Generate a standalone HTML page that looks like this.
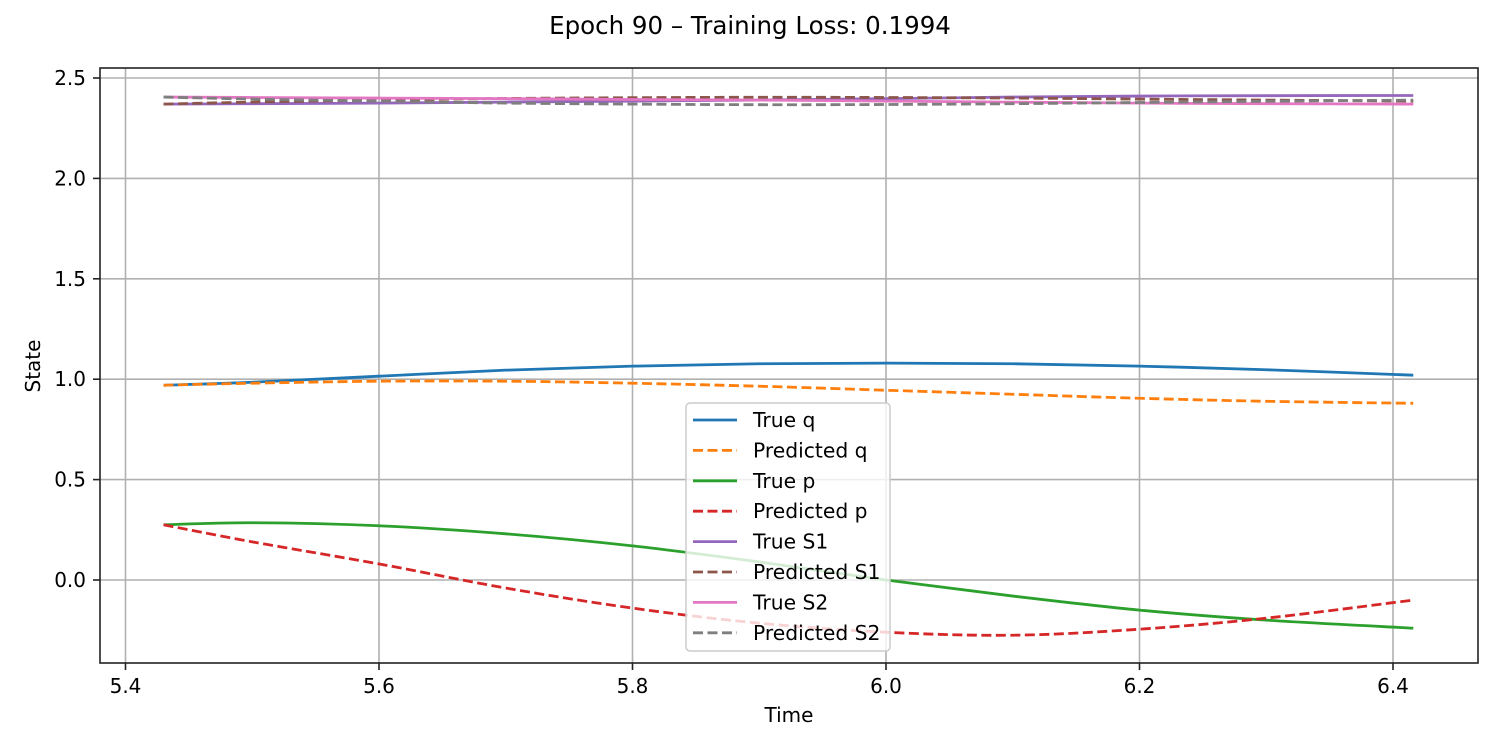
<!DOCTYPE html>
<html><head><meta charset="utf-8"><style>
html,body{margin:0;padding:0;background:#fff;}
svg{display:block;font-family:"DejaVu Sans","Liberation Sans",sans-serif;}
</style></head><body>
<svg id="chart" width="1500" height="750">
<text x="750" y="34" font-size="24.5" text-anchor="middle" fill="#000">Epoch 90 – Training Loss: 0.1994</text>
<g id="grid"></g>
<g id="series"></g>
<rect x="100" y="68" width="1378" height="595" fill="none" stroke="#222" stroke-width="1.6"/>
<g id="ticks"></g>
<text x="789" y="722" font-size="20" text-anchor="middle">Time</text>
<text x="40" y="366" font-size="20" text-anchor="middle" transform="rotate(-90 40 366)">State</text>
<g id="legend"></g>
</svg>
<script>
const times = [5.43,5.5,5.6,5.7,5.8,5.9,6.0,6.1,6.2,6.3,6.416];
const trueQ = [0.97,0.985,1.015,1.045,1.065,1.077,1.08,1.077,1.065,1.047,1.02];
const predQ = [0.97,0.98,0.99,0.99,0.98,0.965,0.945,0.925,0.905,0.89,0.88];
const trueP = [0.275,0.285,0.27,0.23,0.17,0.09,0.0,-0.08,-0.15,-0.2,-0.24];
const predP = [0.275,0.19,0.08,-0.04,-0.14,-0.215,-0.26,-0.275,-0.245,-0.19,-0.10];
const trueS1 = [2.37,2.372,2.375,2.38,2.385,2.39,2.397,2.405,2.41,2.412,2.413];
const predS1 = [2.37,2.38,2.39,2.398,2.402,2.404,2.403,2.4,2.395,2.39,2.385];
const trueS2 = [2.405,2.403,2.40,2.397,2.393,2.39,2.385,2.38,2.375,2.372,2.37];
const predS2 = [2.405,2.395,2.385,2.375,2.37,2.367,2.368,2.372,2.378,2.384,2.39];
const xTicks = [5.4,5.6,5.8,6.0,6.2,6.4];
const xTickLabels = ["5.4","5.6","5.8","6.0","6.2","6.4"];
const yTicks = [0,0.5,1.0,1.5,2.0,2.5];
const yTickLabels = ["0.0","0.5","1.0","1.5","2.0","2.5"];
const seriesNames = ["True q","Predicted q","True p","Predicted p","True S1","Predicted S1","True S2","Predicted S2"];

const NS="http://www.w3.org/2000/svg";
function X(t){return 125.5+(t-5.4)*(253.5/0.2);}
function Y(v){return 580-v*200.8;}
function mk(tag,attrs,parent){const e=document.createElementNS(NS,tag);for(const k in attrs)e.setAttribute(k,attrs[k]);parent.appendChild(e);return e;}
const grid=document.getElementById('grid'),ticks=document.getElementById('ticks');
xTicks.forEach((t,i)=>{
  const g=mk('line',{x1:X(t),x2:X(t),y1:68,y2:663,stroke:'#b0b0b0','stroke-width':1.6},grid);
  
  
  const tk=mk('line',{x1:X(t),x2:X(t),y1:663,y2:670,stroke:'#222','stroke-width':1.6},ticks);
  
  
  const tx=mk('text',{x:X(t),y:693,'font-size':20,'text-anchor':'middle'},ticks);
  tx.textContent=xTickLabels[i];
  
  
});
yTicks.forEach((v,i)=>{
  const g=mk('line',{x1:100,x2:1478,y1:Y(v),y2:Y(v),stroke:'#b0b0b0','stroke-width':1.6},grid);
  
  
  const tk=mk('line',{x1:93,x2:100,y1:Y(v),y2:Y(v),stroke:'#222','stroke-width':1.6},ticks);
  
  
  const tx=mk('text',{x:86,y:Y(v)+7,'font-size':20,'text-anchor':'end'},ticks);
  tx.textContent=yTickLabels[i];
  
  
});
function smooth(vals){
  const p=vals.map((v,i)=>[X(times[i]),Y(v)]);
  let d=`M${p[0][0]},${p[0][1]}`;
  for(let i=0;i<p.length-1;i++){
    const p0=p[Math.max(0,i-1)],p1=p[i],p2=p[i+1],p3=p[Math.min(p.length-1,i+2)];
    const c1=[p1[0]+(p2[0]-p0[0])/6,p1[1]+(p2[1]-p0[1])/6];
    const c2=[p2[0]-(p3[0]-p1[0])/6,p2[1]-(p3[1]-p1[1])/6];
    d+=` C${c1[0]},${c1[1]} ${c2[0]},${c2[1]} ${p2[0]},${p2[1]}`;
  }
  return d;
}
const seriesData=[trueQ,predQ,trueP,predP,trueS1,predS1,trueS2,predS2];
const colors=['#1f77b4','#ff7f0e','#2ca02c','#d62728','#9467bd','#8c564b','#e377c2','#7f7f7f'];
const sg=document.getElementById('series');
seriesData.forEach((vals,i)=>{
  const dashed=i%2===1;
  const path=mk('path',{d:smooth(vals),fill:'none',stroke:colors[i],'stroke-width':2.8},sg);
  if(dashed)path.setAttribute('stroke-dasharray','10,4.5');
  
  
});
const lg=document.getElementById('legend');
const box=mk('rect',{x:686,y:403,width:204,height:248,rx:4,fill:'#fff','fill-opacity':0.8,stroke:'#ccc','stroke-width':1.5},lg);


seriesNames.forEach((n,i)=>{
  const y=420+i*30.4;
  const g=mk('g',{},lg);
  
  
  const l=mk('line',{x1:693,x2:737,y1:y,y2:y,stroke:colors[i],'stroke-width':2.8},g);
  if(i%2===1)l.setAttribute('stroke-dasharray','10,4.5');
  
  
  const t=mk('text',{x:753,y:y+7,'font-size':20.3},g);
  t.textContent=n;
  
  
});
</script>
</body></html>
